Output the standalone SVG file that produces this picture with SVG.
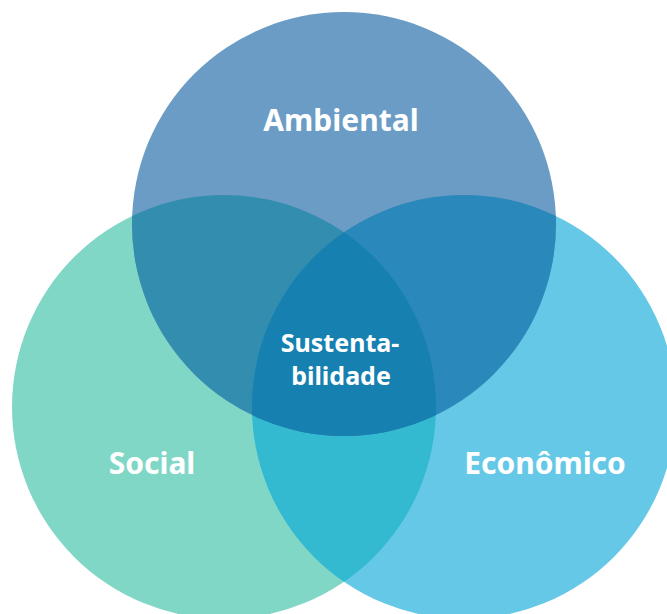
<svg xmlns="http://www.w3.org/2000/svg" width="667" height="614" viewBox="0 0 667 614">
<style>
.lbl{font-family:"Noto Sans","Open Sans","Liberation Sans",sans-serif;font-weight:bold;fill:#ffffff;text-anchor:middle}
.big{font-size:30px}
.mid{font-size:25px}
</style>
<defs>
<clipPath id="cT"><circle cx="344" cy="224" r="212"/></clipPath>
<clipPath id="cL"><circle cx="224" cy="407" r="212"/></clipPath>
<clipPath id="cR"><circle cx="464" cy="407" r="212"/></clipPath>
</defs>
<rect width="667" height="614" fill="#ffffff"/>
<g id="social"><circle cx="224" cy="407" r="212" fill="#80D7C6"/></g>
<g id="economico"><circle cx="464" cy="407" r="212" fill="#66C8E7"/></g>
<g id="ambiental"><circle cx="344" cy="224" r="212" fill="#6A9CC5"/></g>
<g id="overlaps">
<g clip-path="url(#cL)"><circle cx="464" cy="407" r="212" fill="#33B9D0"/></g>
<g clip-path="url(#cT)"><circle cx="224" cy="407" r="212" fill="#338DAE"/></g>
<g clip-path="url(#cT)"><circle cx="464" cy="407" r="212" fill="#2A88BB"/></g>
<g clip-path="url(#cT)"><g clip-path="url(#cL)"><circle cx="464" cy="407" r="212" fill="#1681B0"/></g></g>
</g>
<g id="labels">
<text class="lbl big" x="341" y="131">Ambiental</text>
<text class="lbl big" x="152" y="474">Social</text>
<text class="lbl big" x="545" y="474">Econômico</text>
<g id="sustentabilidade">
<text class="lbl mid" x="340" y="352">Sustenta-</text>
<text class="lbl mid" x="341" y="385">bilidade</text>
</g>
</g>
</svg>
